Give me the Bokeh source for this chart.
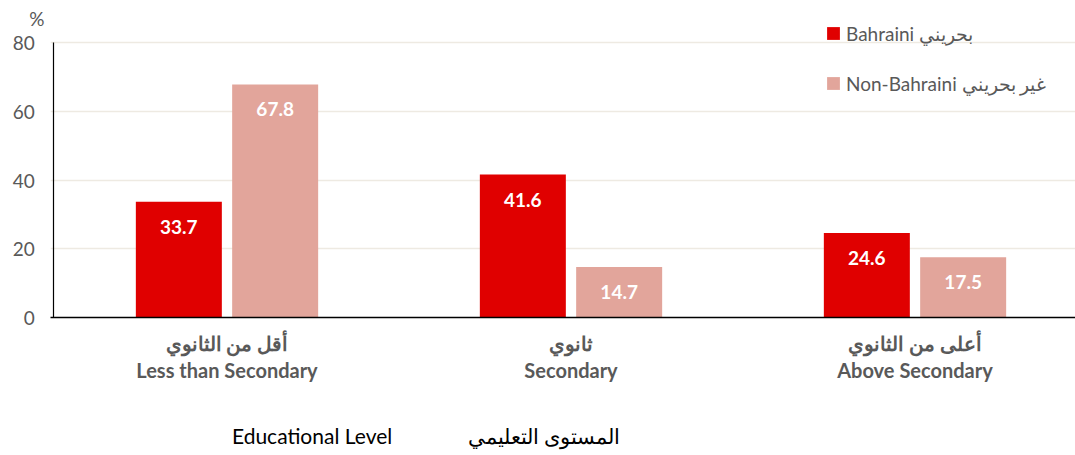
from bokeh.plotting import figure
from bokeh.models import ColumnDataSource, Range1d, FixedTicker, Legend, LegendItem
from bokeh.core.properties import value
from bokeh.embed import file_html
from bokeh.resources import INLINE

categories_en = ["Less than Secondary", "Secondary", "Above Secondary"]
categories_ar = ["أقل من الثانوي", "ثانوي", "أعلى من الثانوي"]
bahraini = [33.7, 41.6, 24.6]
non_bahraini = [67.8, 14.7, 17.5]
series_names = ["Bahraini بحريني", "Non-Bahraini غير بحريني"]
y_ticks = [0, 20, 40, 60, 80]
unit_label = "%"
axis_title_en = "Educational Level"
axis_title_ar = "المستوى التعليمي"

RED = "#E00000"
PINK = "#E2A59B"
GRAY = "#595959"
FONT = "Lato"
NB = "\u00a0"

# layout (pixels)
W, H = 1075, 455
FRAME_L, FRAME_B = 50, 317
PX_X = 344.0            # px per category
X0_PAGE = 226.5         # page x of first category centre
PX_Y = 275.0 / 80.0     # px per percent
AXIS_PAGE_X = 53

x_start = -(X0_PAGE - FRAME_L) / PX_X
x_end = x_start + (W - FRAME_L) / PX_X
y_end = FRAME_B / PX_Y
axis_x = -(X0_PAGE - AXIS_PAGE_X) / PX_X
unit_tick = (FRAME_B - 18) / PX_Y

xs = list(range(len(categories_en)))
off = 0.14
bw = 0.25

p = figure(width=W, height=H, output_backend="svg", toolbar_location=None,
           x_range=Range1d(x_start, x_end), y_range=Range1d(0, y_end),
           min_border_left=FRAME_L, min_border_right=0, min_border_top=0,
           min_border_bottom=H - FRAME_B)
p.outline_line_color = None
p.background_fill_color = "white"
p.border_fill_color = "white"

src_b = ColumnDataSource(dict(x=[x - off for x in xs], top=bahraini, lab=[f"{v:.1f}" for v in bahraini]))
src_n = ColumnDataSource(dict(x=[x + off for x in xs], top=non_bahraini, lab=[f"{v:.1f}" for v in non_bahraini]))

r1 = p.vbar(x="x", top="top", width=bw, source=src_b, fill_color=RED, line_color=None)
r2 = p.vbar(x="x", top="top", width=bw, source=src_n, fill_color=PINK, line_color=None)

for s in (src_b, src_n):
    p.text(x="x", y="top", text="lab", source=s, y_offset=25, text_align="center",
           text_baseline="middle", text_color="white", text_font=value(FONT),
           text_font_size="19px", text_font_style="bold")

# y axis line limited to 0..80
p.segment(x0=[axis_x], y0=[y_ticks[0]], x1=[axis_x], y1=[y_ticks[-1]], line_color="black", line_width=1.2)

# axes
p.yaxis.ticker = FixedTicker(ticks=y_ticks + [unit_tick])
overrides = {t: f"{t}{NB}{NB}" for t in y_ticks}
overrides[unit_tick] = unit_label
p.yaxis.major_label_overrides = overrides
p.yaxis.major_tick_line_color = None
p.yaxis.major_tick_out = 0
p.yaxis.minor_tick_line_color = None
p.yaxis.axis_line_color = None
p.yaxis.major_label_text_font = FONT
p.yaxis.major_label_text_font_size = "19px"
p.yaxis.major_label_text_color = GRAY
p.yaxis.major_label_standoff = 6

p.xaxis.ticker = FixedTicker(ticks=xs)
p.xaxis.major_label_overrides = {i: categories_ar[i] + "\n" + categories_en[i] for i in xs}
p.xaxis.major_tick_line_color = None
p.xaxis.major_tick_out = 0
p.xaxis.minor_tick_line_color = None
p.xaxis.axis_line_color = "black"
p.xaxis.axis_line_width = 1.5
p.xaxis.major_label_text_font = FONT
p.xaxis.major_label_text_font_size = "20px"
p.xaxis.major_label_text_line_height = 1.15
p.xaxis.major_label_text_font_style = "bold"
p.xaxis.major_label_text_color = GRAY
p.xaxis.major_label_standoff = 13

# axis title: visible text starts at page x 236; centred string padded on the right
p.xaxis.axis_label = axis_title_en + NB * 14 + axis_title_ar + NB * 51
p.xaxis.axis_label_text_font = FONT
p.xaxis.axis_label_text_font_size = "21px"
p.xaxis.axis_label_text_font_style = "normal"
p.xaxis.axis_label_text_color = "black"
p.xaxis.axis_label_standoff = 38

p.xgrid.grid_line_color = None
p.ygrid.ticker = FixedTicker(ticks=y_ticks[1:])
p.ygrid.grid_line_color = "#EEEAE2"
p.ygrid.grid_line_width = 1.5

legend = Legend(items=[LegendItem(label=series_names[0], renderers=[r1]),
                       LegendItem(label=series_names[1], renderers=[r2])],
                location=(775, 222), orientation="vertical",
                glyph_width=16, glyph_height=16, label_height=24, spacing=26,
                padding=0, margin=0, label_standoff=5,
                label_text_font=FONT, label_text_font_size="19px", label_text_color=GRAY,
                border_line_color=None, background_fill_alpha=0)
p.add_layout(legend, "center")

open("out.html", "w").write(file_html(p, INLINE))
